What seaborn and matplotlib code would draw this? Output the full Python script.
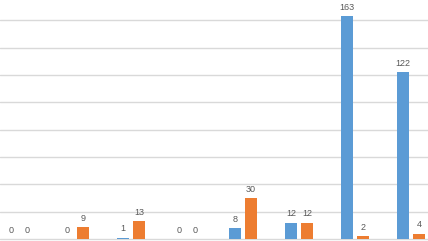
import matplotlib
matplotlib.use("Agg")
import matplotlib.pyplot as plt
import seaborn as sns
import pandas as pd

categories = ["A", "B", "C", "D", "E", "F", "G", "H"]
series1 = [0, 0, 1, 0, 8, 12, 163, 122]
series2 = [0, 9, 13, 0, 30, 12, 2, 4]
series_names = ["Series1", "Series2"]
colors = ["#5B9BD5", "#ED7D31"]

df = pd.DataFrame({
    "category": categories * 2,
    "value": series1 + series2,
    "series": [series_names[0]] * len(categories) + [series_names[1]] * len(categories),
})

sns.set_theme(style="white")
plt.rcParams["font.family"] = ["Liberation Sans", "DejaVu Sans"]

fig = plt.figure(figsize=(4.28, 2.41), dpi=100)
ax = fig.add_axes([0, 0, 1, 1])

sns.barplot(data=df, x="category", y="value", hue="series", order=categories,
            hue_order=series_names, palette=colors, width=0.571, gap=0.25,
            saturation=1, legend=False, ax=ax, zorder=3, edgecolor="none")

for c in ax.containers:
    ax.bar_label(c, fmt="%d", padding=3, fontsize=6.5, color="#595959")

ax.set_xlim(-0.339, 7.30)
ax.set_ylim(-1.46, 174.8)
ax.set_yticks(range(0, 161, 20))
ax.yaxis.grid(True, color="#D9D9D9", linewidth=1)
ax.set_axisbelow(True)
for s in ax.spines.values():
    s.set_visible(False)
ax.tick_params(left=False, bottom=False, labelleft=False, labelbottom=False)
ax.set_xlabel("")
ax.set_ylabel("")

fig.savefig("out.png", dpi=100)
